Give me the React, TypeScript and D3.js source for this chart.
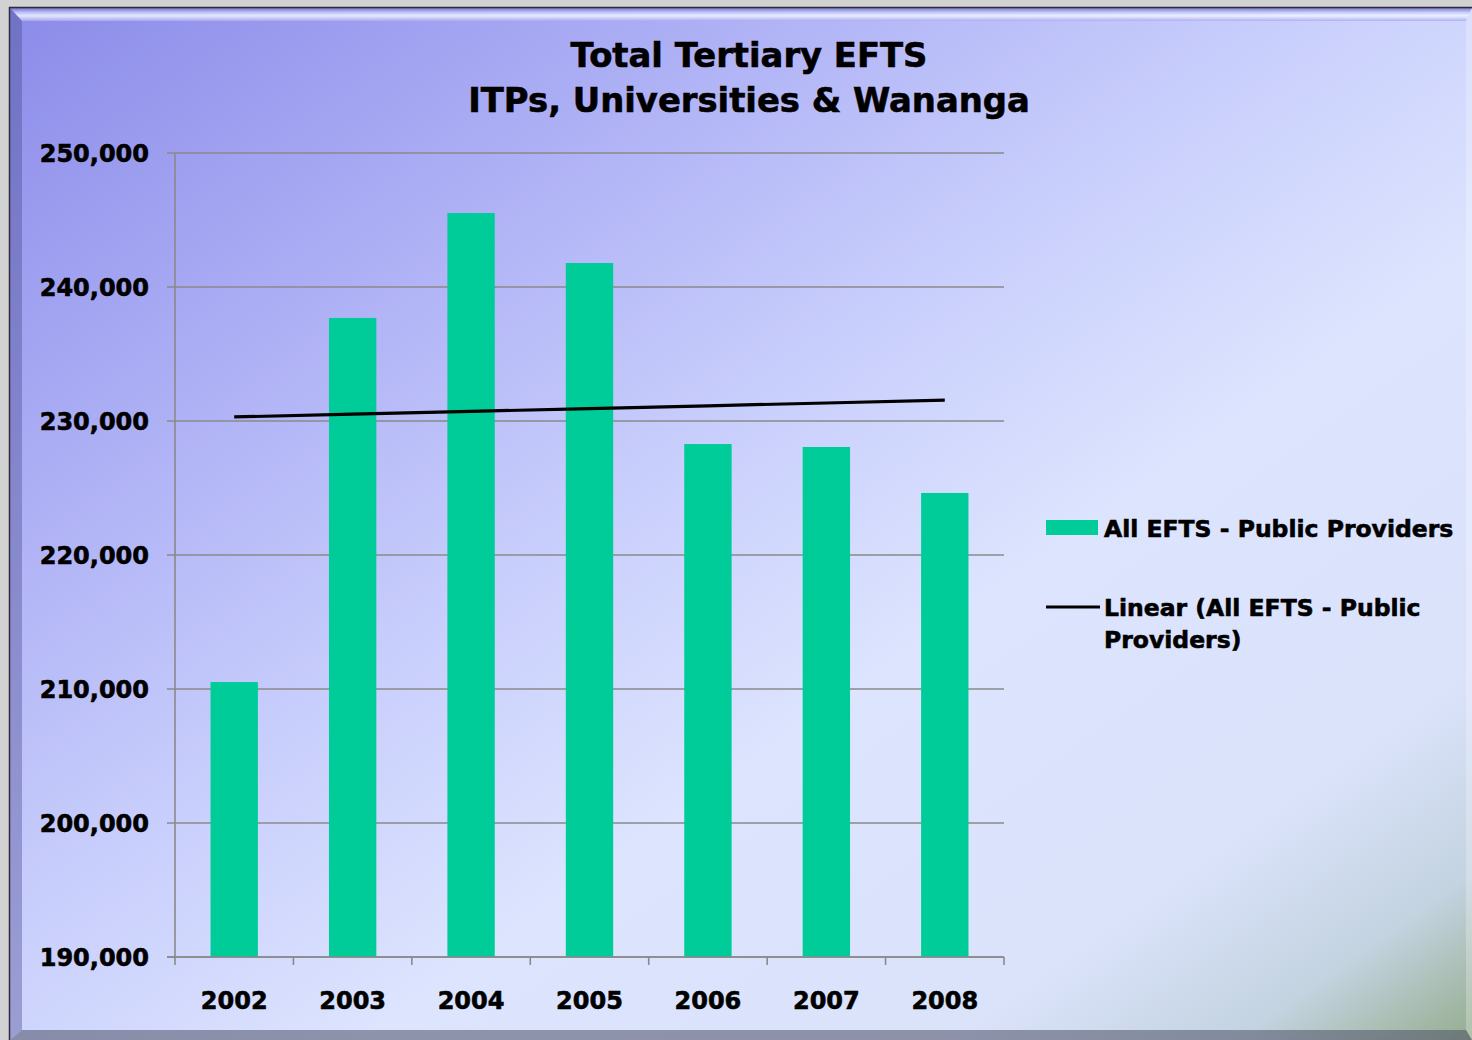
import React, { useEffect, useRef } from 'react';
import * as d3 from 'd3';

const years = ['2002', '2003', '2004', '2005', '2006', '2007', '2008'];
const efts = [210520, 237690, 245520, 241790, 228280, 228060, 224630];
const yTicks = [190000, 200000, 210000, 220000, 230000, 240000, 250000];
const titleLines = ['Total Tertiary EFTS', 'ITPs, Universities & Wananga'];
const barLabel = 'All EFTS - Public Providers';
const trendLabel = ['Linear (All EFTS - Public', 'Providers)'];

const W = 1472, H = 1040;
const FONT = '"DejaVu Sans", Verdana, sans-serif';

const App: React.FC = () => {
  const ref = useRef<SVGSVGElement>(null);

  useEffect(() => {
    if (!ref.current) return;
    const svg = d3.select(ref.current);
    svg.selectAll('*').remove();

    const margin = { top: 153, left: 175, right: W - 1004, bottom: H - 957 };
    const width = W - margin.left - margin.right;
    const height = H - margin.top - margin.bottom;

    // background + gradients
    const defs = svg.append('defs');
    const bg = defs.append('linearGradient').attr('id', 'bg')
      .attr('x1', 0).attr('y1', 0).attr('x2', 1).attr('y2', 1);
    [[0, '#8b8be9'], [0.25, '#aeb0f5'], [0.45, '#c9cffc'], [0.62, '#dce4fe'],
     [0.82, '#dbe3fb'], [0.92, '#c3d3e0'], [1, '#95ad8f']].forEach(([o, c]) =>
      bg.append('stop').attr('offset', o as number).attr('stop-color', c as string));

    const topB = defs.append('linearGradient').attr('id', 'topB')
      .attr('x1', 0).attr('y1', 0).attr('x2', 0).attr('y2', 1);
    [[0, '#6f70c8'], [0.35, '#c8ccfa'], [0.6, '#f4f6ff'], [1, '#a8acf0']].forEach(([o, c]) =>
      topB.append('stop').attr('offset', o as number).attr('stop-color', c as string));

    svg.append('rect').attr('width', W).attr('height', H).attr('fill', '#d2d2d2');
    svg.append('rect').attr('x', 9).attr('y', 7).attr('width', W - 9).attr('height', H - 7)
      .attr('fill', 'url(#bg)');
    // bevels
    svg.append('path').attr('d', `M10,8 L${W},8 L${W - 6},21 L22,21 Z`).attr('fill', 'url(#topB)').attr('opacity', 0.85);
    svg.append('path').attr('d', `M10,8 L22,21 L22,${H - 10} L10,${H} Z`).attr('fill', '#4a4a90').attr('opacity', 0.4);
    svg.append('path').attr('d', `M${W},8 L${W - 6},21 L${W - 6},${H - 10} L${W},${H} Z`).attr('fill', '#ffffff').attr('opacity', 0.25);
    svg.append('path').attr('d', `M10,${H} L22,${H - 10} L${W - 6},${H - 10} L${W},${H} Z`).attr('fill', '#4d5066').attr('opacity', 0.55);
    svg.append('line').attr('x1', 9.5).attr('y1', 7).attr('x2', 9.5).attr('y2', H).attr('stroke', '#2c2c3c').attr('stroke-width', 1.5);
    svg.append('line').attr('x1', 9).attr('y1', 7.5).attr('x2', W).attr('y2', 7.5).attr('stroke', '#2c2c3c').attr('stroke-width', 1.5);

    const g = svg.append('g').attr('transform', `translate(${margin.left},${margin.top})`);

    const x = d3.scaleBand().domain(years).range([0, width]).paddingInner(0.6).paddingOuter(0.3);
    const y = d3.scaleLinear().domain([190000, 250000]).range([height, 0]);
    const band = d3.scaleBand().domain(years).range([0, width]);

    // gridlines
    g.selectAll('.grid').data(yTicks).enter().append('line')
      .attr('x1', -8).attr('x2', width)
      .attr('y1', d => y(d)).attr('y2', d => y(d))
      .attr('stroke', '#8a8a8a').attr('stroke-width', 1.6);

    // bars
    g.selectAll('.bar').data(efts).enter().append('rect')
      .attr('x', (d, i) => x(years[i])!)
      .attr('width', x.bandwidth())
      .attr('y', d => y(d))
      .attr('height', d => height - y(d))
      .attr('fill', '#00cc99');

    // axes
    g.append('line').attr('x1', 0).attr('x2', 0).attr('y1', 0).attr('y2', height)
      .attr('stroke', '#8a8a8a').attr('stroke-width', 1.6);
    g.append('line').attr('x1', -8).attr('x2', width).attr('y1', height).attr('y2', height)
      .attr('stroke', '#8a8a8a').attr('stroke-width', 1.6);
    const bounds = years.map(yr => band(yr)!).concat([width]);
    g.selectAll('.xtick').data(bounds).enter().append('line')
      .attr('x1', d => d).attr('x2', d => d).attr('y1', height).attr('y2', height + 8)
      .attr('stroke', '#8a8a8a').attr('stroke-width', 1.6);

    const heavy = (sel: any) => sel.attr('stroke', '#000').attr('stroke-width', 0.6);

    g.selectAll('.ylab').data(yTicks).enter().append('text')
      .attr('x', -26).attr('y', d => y(d)).attr('dy', '0.36em')
      .attr('text-anchor', 'end')
      .style('font', `bold 24px ${FONT}`)
      .call(heavy)
      .text(d => d3.format(',')(d));

    g.selectAll('.xlab').data(years).enter().append('text')
      .attr('x', d => band(d)! + band.bandwidth() / 2).attr('y', height + 52)
      .attr('text-anchor', 'middle')
      .style('font', `bold 24px ${FONT}`)
      .call(heavy)
      .text(d => d);

    // linear trend (least squares)
    const xs = efts.map((_, i) => i);
    const mx = d3.mean(xs)!, my = d3.mean(efts)!;
    const slope = d3.sum(xs, i => (i - mx) * (efts[i] - my)) / d3.sum(xs, i => (i - mx) ** 2);
    const trend = xs.map(i => my + slope * (i - mx));
    const line = d3.line<number>()
      .x((d, i) => band(years[i])! + band.bandwidth() / 2)
      .y(d => y(d));
    g.append('path').datum(trend).attr('d', line).attr('fill', 'none')
      .attr('stroke', '#000').attr('stroke-width', 3.2);

    // title
    svg.append('text').attr('x', 748).attr('text-anchor', 'middle')
      .style('font', `bold 33.8px ${FONT}`)
      .call(heavy)
      .selectAll('tspan').data(titleLines).enter().append('tspan')
      .attr('x', 749).attr('y', (d, i) => 67 + i * 45).text(d => d);

    // legend
    const lg = svg.append('g').attr('transform', 'translate(1046,0)');
    lg.append('rect').attr('x', 0).attr('y', 520).attr('width', 52).attr('height', 15).attr('fill', '#00cc99');
    lg.append('text').attr('x', 58).attr('y', 537).style('font', `bold 23.5px ${FONT}`).call(heavy).text(barLabel);
    lg.append('line').attr('x1', 0).attr('x2', 54).attr('y1', 607).attr('y2', 607)
      .attr('stroke', '#000').attr('stroke-width', 3);
    lg.selectAll('.tl').data(trendLabel).enter().append('text')
      .attr('x', 58).attr('y', (d, i) => 616 + i * 32)
      .style('font', `bold 23.5px ${FONT}`).call(heavy).text(d => d);
  }, []);

  return (
    <svg ref={ref} width={W} height={H} style={{ position: 'absolute', left: 0, top: 0, display: 'block' }} />
  );
};

export default App;
